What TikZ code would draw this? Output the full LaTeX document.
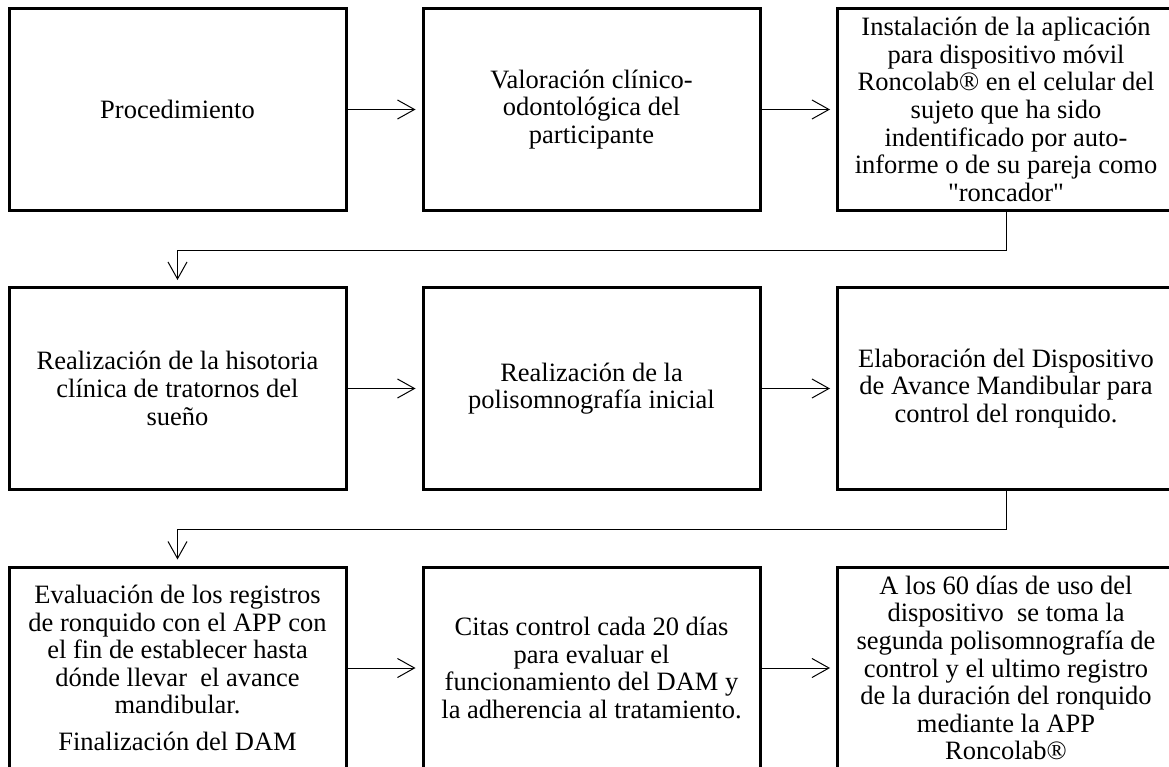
\documentclass[tikz,border=0pt]{standalone}
\usepackage{fontspec}
\setmainfont{Liberation Serif}[Ligatures=TeXOff]
\usetikzlibrary{arrows.meta,positioning}

\begin{document}
\begin{tikzpicture}[x=1pt,y=-1pt,
    caja/.style={draw,line width=3pt,minimum width=337pt,minimum height=202pt,
        inner sep=0pt,align=center,
        font=\fontsize{26.5}{27.6}\selectfont},
    flecha/.style={line width=1pt,-{Straight Barb[length=17pt,width=19pt]},
        shorten >=6pt}]
    \useasboundingbox (0,0) rectangle (1169,767);
%
    \node[caja] (proc) at (177.5,109.5) {Procedimiento};
    \node[caja] (valor) at (591.5,109.5)
        {Valoración clínico-\\odontológica del\\participante};
    \node[caja] (inst) at (1006,109.5)
        {Instalación de la aplicación\\para dispositivo móvil\\Roncolab® en el celular del\\sujeto que ha sido\\indentificado por auto-\\informe o de su pareja como\\"roncador"};
%
    \node[caja] (hist) at (177.5,388.5)
        {Realización de la hisotoria\\clínica de tratornos del\\sueño};
    \node[caja] (poli) at (591.5,388.5)
        {Realización de la\\polisomnografía inicial};
    \node[caja] (elab) at (1006,388.5)
        {Elaboración del Dispositivo\\de Avance Mandibular para\\control del ronquido.};
%
    \node[caja] (eval) at (177.5,668)
        {Evaluación de los registros\\de ronquido con el APP con\\el fin de establecer hasta\\dónde llevar\ \ el avance\\mandibular.\\[9pt]Finalización del DAM};
    \node[caja] (citas) at (591.5,668)
        {Citas control cada 20 días\\para evaluar el\\funcionamiento del DAM y\\la adherencia al tratamiento.};
    \node[caja] (final) at (1006,668)
        {A los 60 días de uso del\\dispositivo\ \ se toma la\\segunda polisomnografía de\\control y el ultimo registro\\de la duración del ronquido\\mediante la APP\\Roncolab®};
%
    \draw[flecha] (proc) -- (valor);
    \draw[flecha] (valor) -- (inst);
    \draw[flecha] (inst.south) -- ++(0,39) -| (hist.north);
    \draw[flecha] (hist) -- (poli);
    \draw[flecha] (poli) -- (elab);
    \draw[flecha] (elab.south) -- ++(0,38) -| (eval.north);
    \draw[flecha] (eval) -- (citas);
    \draw[flecha] (citas) -- (final);
\end{tikzpicture}
\end{document}
